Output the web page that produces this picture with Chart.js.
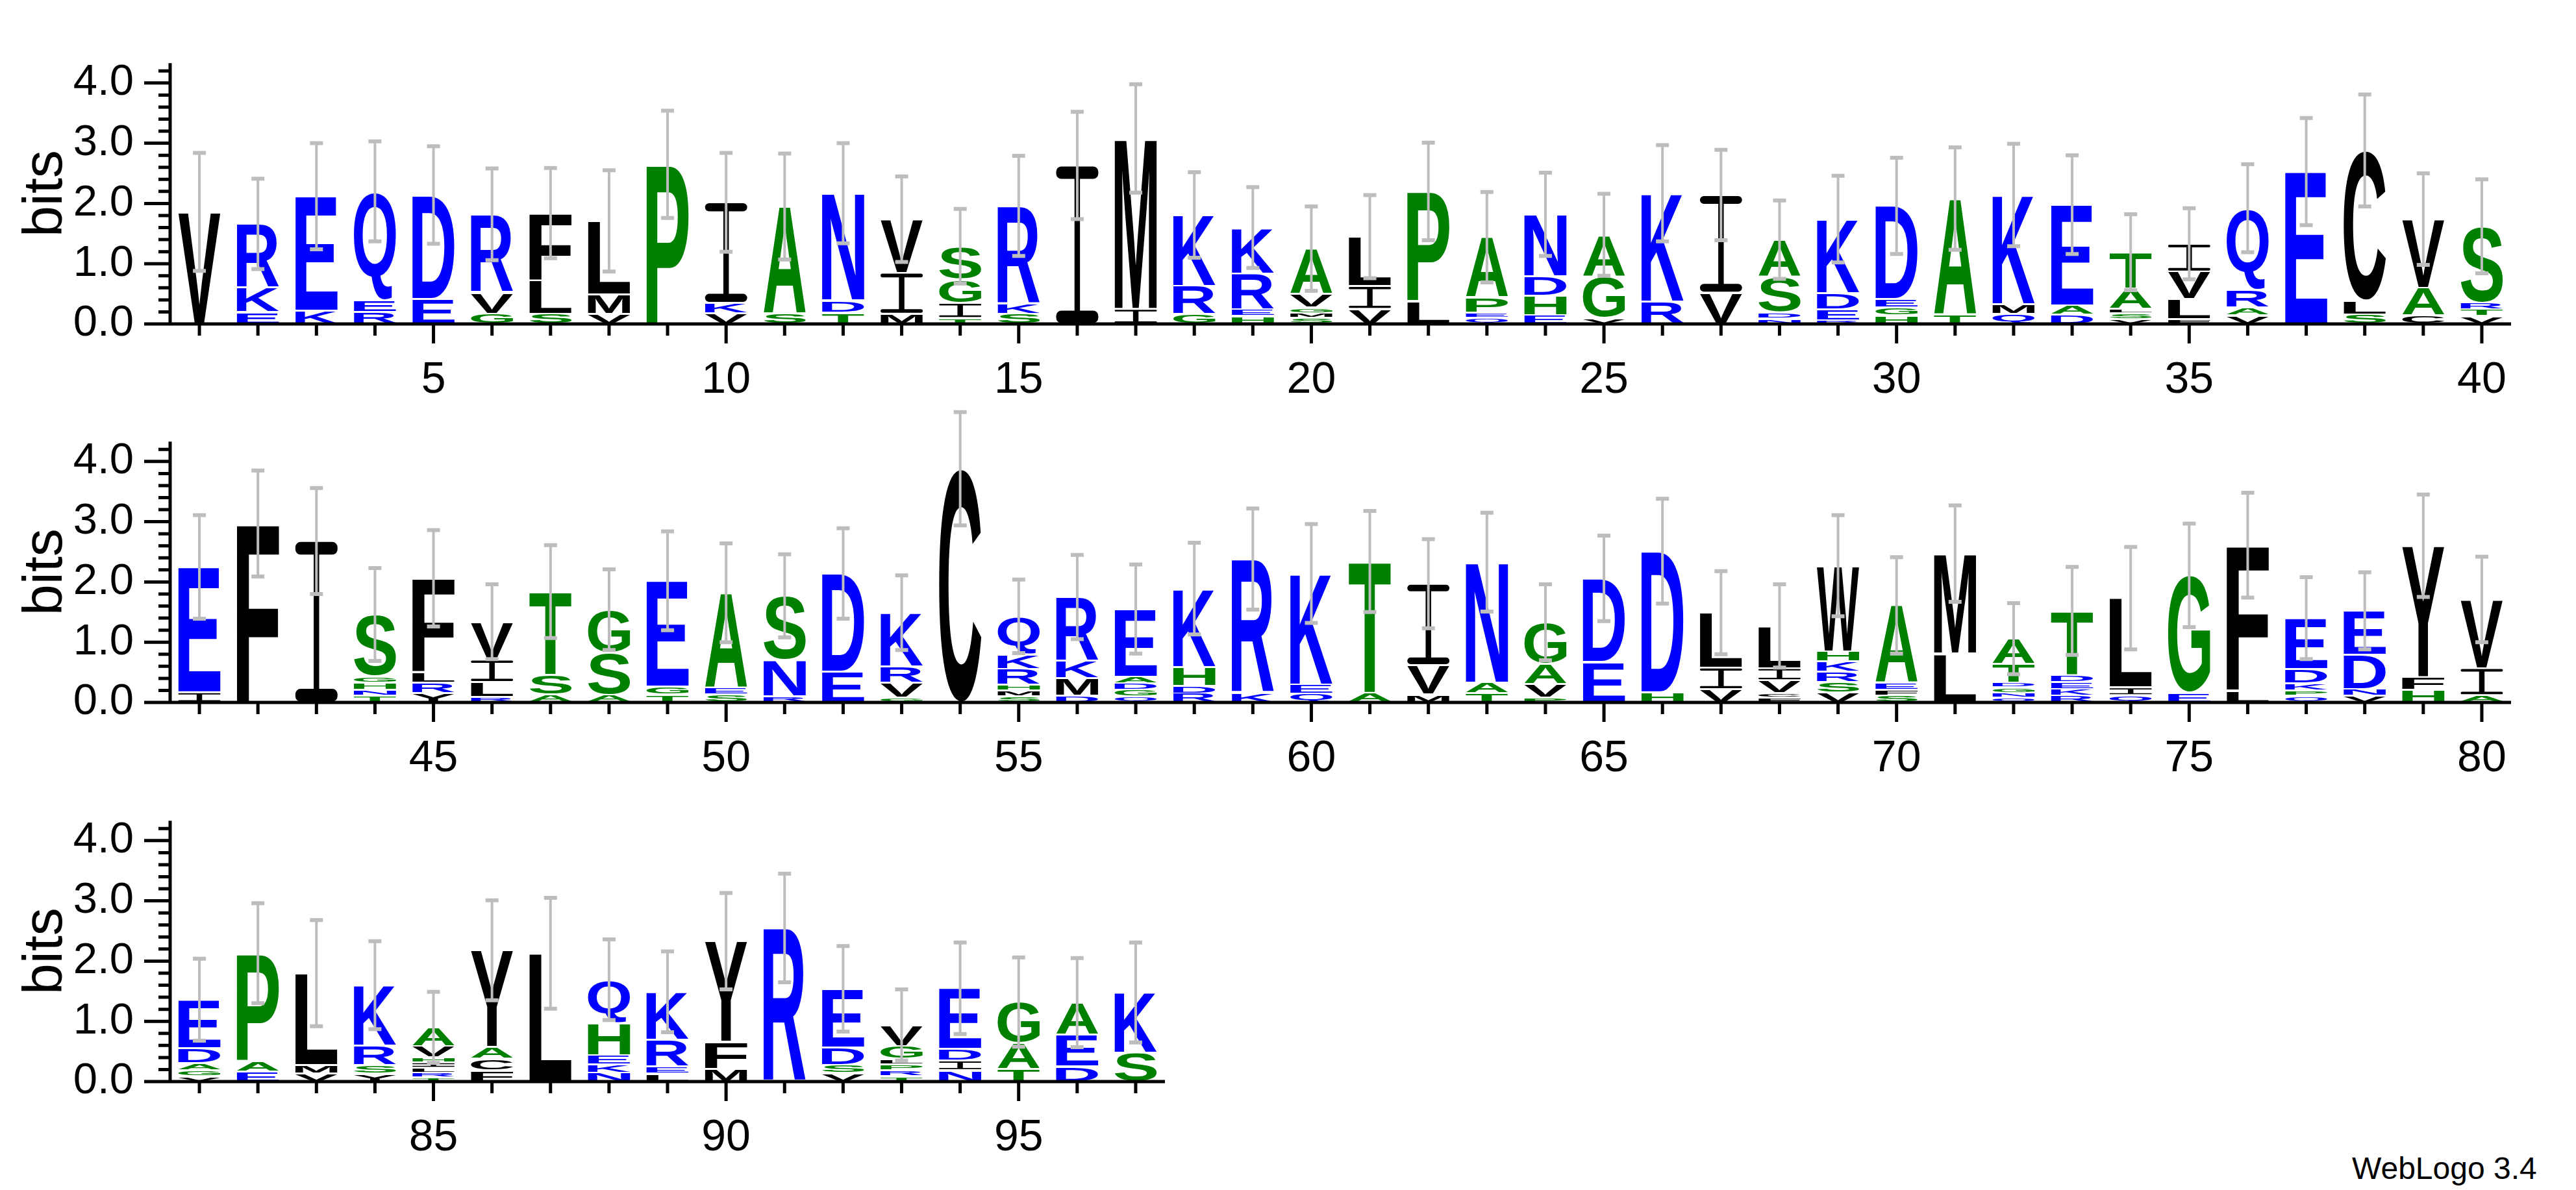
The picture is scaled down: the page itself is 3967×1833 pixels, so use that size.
<!DOCTYPE html>
<html>
<head>
<meta charset="utf-8">
<script src="https://cdn.jsdelivr.net/npm/chart.js@4"></script>
<style>
  body { margin: 0; background: #fff; width: 3967px; height: 1833px; position: relative; overflow: hidden; }
  canvas { position: absolute; left: 0; }
  #credit { position: absolute; left: 3622px; top: 1772px; font: 48px "Liberation Sans", Arial, sans-serif; color: #000; }
</style>
</head>
<body>
<canvas id="row1"></canvas>
<canvas id="row2"></canvas>
<canvas id="row3"></canvas>
<div id="credit">WebLogo 3.4</div>
<script>
// residues per position, bottom to top of the stack
const letters = [
  "V","EKR","KE","REQ","ED","GVR","SLF","VML","P","VKI",
  "SA","TDN","MIV","TIGS","SKR","I","IM","GRK","HERK","SMGVA",
  "VIL","LP","QEPA","EHDN","VGA","RK","VI","NDSA","REDK","HGED",
  "TA","QMK","DAE","VSLAT","FLVI","VARQ","E","SLC","CAV","VTRS",
  "IE","F","I","TNHGS","YRLF","RLIV","AST","ASG","TGE","SEA",
  "RNS","ED","GVRK","C","SMHRKQ","DMKR","QGDAE","RDHK","KR","QEK",
  "AT","MVI","TAN","PVAG","ED","HD","VIL","FCVIL","VSRKHW","SFEA",
  "LM","QNGDTA","RKEDT","QIL","EG","LF","QPKDE","VNDE","HFY","AIV",
  "VGADE","EAP","VML","YSRK","TRLIHVA","FCAY","L","NKEHQ","LERK","MFY",
  "R","VSDE","TRPLGV","NIDE","TAG","DEA","SK"
];
// letter heights in bits, same order
const heights = [
  [1.86],[.2,.4,1.06],[.22,1.9],[.2,.2,1.8],[.42,1.72],[.17,.35,1.3],[.17,.55,1.12],[.17,.32,1.22],[2.65],[.18,.17,1.67],
  [.17,1.78],[.19,.2,1.78],[.17,.68,.89],[.1,.25,.39,.55],[.17,.17,1.62],[2.63],[.25,2.83],[.16,.47,1.18],[.13,.11,.6,.76],[.1,.08,.09,.23,.75],
  [.25,.38,.82],[.38,1.82],[.1,.09,.25,1.0],[.15,.32,.32,1.03],[.1,.69,.69],[.37,1.8],[.52,1.62],[.09,.1,.59,.62],[.06,.18,.27,1.23],[.14,.13,.14,1.55],
  [.15,1.93],[.17,.16,1.81],[.16,.15,1.67],[.08,.1,.07,.34,.6],[.08,.33,.46,.46],[.14,.13,.3,1.35],[2.53],[.16,.23,2.49],[.14,.46,1.14],[.13,.11,.11,1.27],
  [.17,2.08],[2.97],[2.68],[.11,.1,.12,.1,1.03],[.16,.17,.17,1.56],[.09,.25,.37,.63],[.13,.33,1.38],[.13,.7,.71],[.13,.13,1.76],[.13,.11,1.58],
  [.1,.6,1.07],[.51,1.63],[.08,.25,.27,.89],[3.88],[.1,.1,.1,.26,.24,.63],[.11,.29,.29,1.06],[.1,.11,.11,.11,1.12],[.15,.13,.31,1.3],[.16,2.22],[.15,.15,1.84],
  [.16,2.18],[.13,.49,1.35],[.15,.18,2.0],[.08,.22,.34,.69],[.67,1.39],[.17,2.34],[.22,.36,.91],[.08,.08,.21,.2,.7],[.17,.17,.17,.17,.17,1.42],[.11,.1,.11,1.29],
  [.81,1.66],[.08,.08,.09,.08,.31,.42],[.11,.11,.12,.12,1.06],[.12,.13,1.48],[.16,1.95],[.2,2.41],[.11,.09,.12,.24,.84],[.11,.11,.57,.73],[.21,.21,2.18],[.12,.45,1.14],
  [.09,.1,.12,.25,.8],[.17,.17,1.79],[.14,.14,1.52],[.13,.14,.33,1.0],[.07,.08,.08,.09,.08,.19,.31],[.19,.19,.2,1.6],[2.13],[.15,.14,.15,.53,.72],[.13,.12,.45,.79],[.21,.45,1.67],
  [2.55],[.14,.14,.29,.97],[.09,.1,.1,.09,.21,.35],[.19,.16,.19,1.01],[.21,.43,.68],[.25,.53,.53],[.48,1.0]
];
// half-length of the error bar at each stack top, bits
const errors = [
  .98,.75,.88,.83,.81,.76,.75,.84,.89,.82,
  .88,.83,.71,.62,.83,.89,.9,.71,.67,.7,
  .69,.81,.75,.69,.68,.8,.75,.65,.72,.8,
  .85,.85,.82,.63,.59,.73,.89,.93,.76,.78,
  .86,.88,.88,.77,.8,.62,.77,.67,.82,.82,
  .69,.75,.62,.94,.61,.7,.74,.76,.84,.82,
  .84,.74,.82,.63,.71,.87,.69,.69,.84,.8,
  .8,.59,.73,.85,.86,.87,.68,.64,.85,.71,
  .68,.83,.88,.73,.59,.83,.92,.67,.67,.8,
  .9,.71,.59,.76,.74,.74,.83
];
const yTicks = [0, 1, 2, 3, 4];

const GREEN = "#008000", BLUE = "#0000ff", BLACK = "#000000";
function colorOf(ch) {
  if ("GSTAPH".includes(ch)) return GREEN;
  if ("KRDENQ".includes(ch)) return BLUE;
  return BLACK;
}

function drawGlyph(ctx, ch, l, t, w, h) {
  if (h < 1.5) return;
  ctx.save();
  ctx.fillStyle = colorOf(ch);
  if (ch === "I") {
    const cap = Math.max(1, h * 0.075 + 1), stem = w * 0.13, r = Math.min(cap / 2, 8);
    ctx.beginPath();
    ctx.roundRect(l, t, w, cap, r);
    ctx.roundRect(l, t + h - cap, w, cap, r);
    ctx.fill();
    ctx.fillRect(l + (w - stem) / 2, t + cap - 1, stem, h - 2 * cap + 2);
  } else {
    ctx.font = 'bold 200px "Liberation Sans", Arial, sans-serif';
    const m = ctx.measureText(ch);
    const gw = m.actualBoundingBoxLeft + m.actualBoundingBoxRight;
    const gh = m.actualBoundingBoxAscent + m.actualBoundingBoxDescent;
    ctx.translate(l, t);
    ctx.scale(w / gw, h / gh);
    ctx.fillText(ch, m.actualBoundingBoxLeft, m.actualBoundingBoxAscent);
  }
  ctx.restore();
}

const logoPlugin = {
  id: "logo",
  afterDatasetsDraw(chart, args, opts) {
    const ctx = chart.ctx, first = opts.first;
    const xs = chart.scales.x, ys = chart.scales.y, area = chart.chartArea;
    // letters inside the (invisible) stacked bars
    chart.data.datasets.forEach((ds, k) => {
      chart.getDatasetMeta(k).data.forEach((el, i) => {
        const v = ds.data[i];
        if (v == null) return;
        const p = el.getProps(["x", "y", "base", "width"], true);
        const ch = letters[first - 1 + i][k];
        drawGlyph(ctx, ch, p.x - p.width / 2, p.y + 1.5, p.width, p.base - p.y - 3);
      });
    });
    // error bars
    ctx.save();
    ctx.strokeStyle = "#bdbdbd";
    chart.data.labels.forEach((lab, i) => {
      const idx = first - 1 + i;
      const top = heights[idx].reduce((a, b) => a + b, 0);
      const x = xs.getPixelForValue(i);
      const y0 = ys.getPixelForValue(top - errors[idx]);
      const y1 = ys.getPixelForValue(top + errors[idx]);
      ctx.lineWidth = 4;
      ctx.beginPath(); ctx.moveTo(x, y0); ctx.lineTo(x, y1); ctx.stroke();
      ctx.lineWidth = 6;
      ctx.beginPath();
      ctx.moveTo(x - 10, y0); ctx.lineTo(x + 10, y0);
      ctx.moveTo(x - 10, y1); ctx.lineTo(x + 10, y1);
      ctx.stroke();
    });
    ctx.restore();
    // axes and ticks
    ctx.save();
    ctx.strokeStyle = "#000"; ctx.lineWidth = 5;
    ctx.beginPath();
    ctx.moveTo(area.left, area.top); ctx.lineTo(area.left, area.bottom + 2.5);
    ctx.moveTo(area.left - 2.5, area.bottom); ctx.lineTo(area.right, area.bottom);
    chart.data.labels.forEach((lab, i) => {
      const x = xs.getPixelForValue(i);
      ctx.moveTo(x, area.bottom); ctx.lineTo(x, area.bottom + (lab % 5 === 0 ? 30 : 18));
    });
    for (let b = 0; b <= 4.3; b += 0.2) {
      const y = ys.getPixelForValue(b);
      const major = Math.abs(b - Math.round(b)) < 1e-6;
      ctx.moveTo(area.left, y); ctx.lineTo(area.left - (major ? 40 : 18), y);
    }
    ctx.stroke();
    ctx.restore();
  }
};

const rows = [
  { id: "row1", first: 1, last: 40, zero: 499, right: 3867, width: 3900 },
  { id: "row2", first: 41, last: 80, zero: 1082, right: 3867, width: 3900 },
  { id: "row3", first: 81, last: 97, zero: 1666, right: 1794, width: 1830 }
];
const PAD_TOP = 40, PLOT_H = 450, AXIS_H = 130, LEFT = 262;
const FONT = '"Liberation Sans", Arial, sans-serif';

rows.forEach(r => {
  const cv = document.getElementById(r.id);
  const h = PAD_TOP + PLOT_H + AXIS_H;
  cv.width = r.width; cv.height = h;
  cv.style.top = (r.zero - PLOT_H - PAD_TOP) + "px";
  cv.style.width = r.width + "px";
  cv.style.height = h + "px";
  const n = r.last - r.first + 1;
  const labels = [];
  for (let i = 0; i < n; i++) labels.push(r.first + i);
  const depth = Math.max(...heights.slice(r.first - 1, r.last).map(hh => hh.length));
  const datasets = [];
  for (let k = 0; k < depth; k++) {
    datasets.push({
      data: labels.map(p => heights[p - 1][k] ?? null),
      backgroundColor: "rgba(0,0,0,0)",
      borderWidth: 0,
      barPercentage: 0.72,
      categoryPercentage: 1
    });
  }
  new Chart(cv, {
    type: "bar",
    data: { labels, datasets },
    plugins: [logoPlugin],
    options: {
      responsive: false,
      maintainAspectRatio: false,
      animation: false,
      devicePixelRatio: 1,
      layout: { autoPadding: false, padding: { top: PAD_TOP, left: 0, right: r.width - r.right, bottom: 0 } },
      plugins: { legend: { display: false }, tooltip: { enabled: false }, logo: { first: r.first } },
      scales: {
        x: {
          stacked: true,
          offset: true,
          grid: { display: false },
          border: { display: false },
          ticks: {
            autoSkip: false, maxRotation: 0, padding: 38, color: "#000",
            font: { family: FONT, size: 68 },
            callback: function (v) { const l = this.getLabelForValue(v); return l % 5 === 0 ? l : ""; }
          },
          afterFit: s => { s.height = AXIS_H; }
        },
        y: {
          stacked: true,
          min: 0, max: 4.33,
          grid: { display: false },
          border: { display: false },
          afterBuildTicks: s => { s.ticks = yTicks.map(v => ({ value: v })); },
          ticks: {
            padding: 48, color: "#000",
            font: { family: FONT, size: 67 },
            callback: v => Number(v).toFixed(1)
          },
          title: {
            display: true, text: "bits", color: "#000", padding: { top: 20, bottom: 0 },
            font: { family: FONT, size: 86 }
          },
          afterFit: s => { s.width = LEFT; }
        }
      }
    }
  });
});
</script>
</body>
</html>
